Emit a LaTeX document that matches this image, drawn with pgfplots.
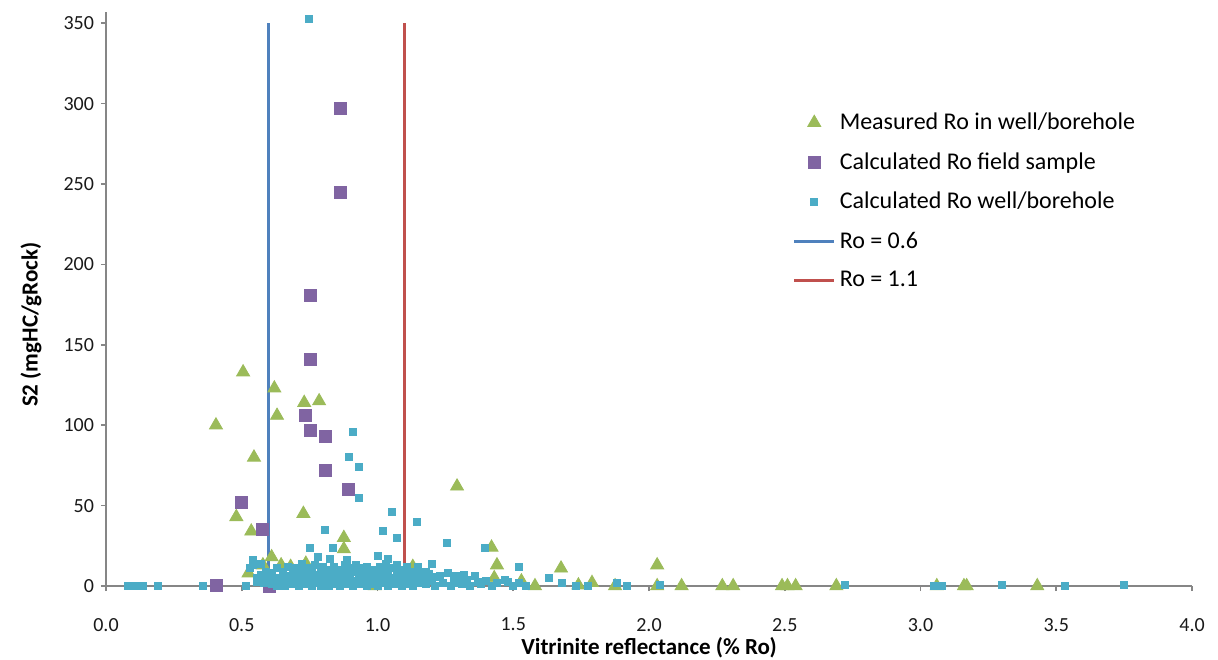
\documentclass[border=0pt]{standalone}
\usepackage{fontspec}
\setmainfont{Carlito}
\usepackage{pgfplots}
\pgfplotsset{compat=1.18}
\definecolor{mgreen}{HTML}{9BBB59}
\definecolor{mpurple}{HTML}{8064A2}
\definecolor{mcyan}{HTML}{4BACC6}
\definecolor{mblue}{HTML}{4F81BD}
\definecolor{mred}{HTML}{C0504D}
\definecolor{axisgray}{HTML}{868686}
\begin{document}
\begin{tikzpicture}
\begin{axis}[
  at={(53pt,36.5pt)}, anchor=south west,
  width=543pt, height=287pt, scale only axis,
  xmin=0, xmax=4, ymin=0, ymax=357,
  clip=false,
  axis lines=left,
  axis line style={-, draw=axisgray, line width=0.8pt},
  tick align=outside, major tick length=2.5pt,
  tick style={draw=axisgray, line width=0.8pt},
  xtick={0,0.5,1,1.5,2,2.5,3,3.5,4},
  ytick={0,50,100,150,200,250,300,350},
  /pgf/number format/assume math mode=true,
  xticklabel style={/pgf/number format/fixed, /pgf/number format/fixed zerofill, /pgf/number format/precision=1, yshift=-10pt},
  ticklabel style={font=\fontsize{10}{12}\selectfont, text=black!90},
  xlabel={\textbf{Vitrinite reflectance (\% Ro)}},
  ylabel={\textbf{S2 (mgHC/gRock)}},
  xlabel style={at={(axis description cs:0.5,-0.107)}, anchor=center, font=\fontsize{11.5}{13}\selectfont},
  ylabel style={at={(axis description cs:-0.069,0.455)}, anchor=center, font=\fontsize{11.5}{13}\selectfont},
  legend cell align=left,
  legend image code/.code={\draw[mark repeat=2,mark phase=2,#1] plot coordinates {(0pt,0pt) (10pt,0pt) (20pt,0pt)};},
  legend style={draw=none, fill=none, inner sep=0pt, at={(axis description cs:0.632,0.832)}, anchor=north west,
    row sep=6pt, font=\fontsize{12}{13}\selectfont},
]
\addplot[only marks, mark=triangle*, mark size=3.75pt, mgreen, mark options={draw=mgreen, fill=mgreen}] coordinates {
(0.405,100) (0.505,133) (0.545,80) (0.48,43) (0.535,34) (0.62,123) (0.63,106)
(0.73,114) (0.785,115) (0.727,45) (0.876,30) (0.876,23) (1.293,62) (1.42,24)
(1.44,13) (1.43,5) (1.53,3) (0.525,8) (0.578,13) (0.61,18) (0.645,13) (0.68,12)
(0.736,14) (0.99,0) (1.13,12) (1.58,0) (1.676,11) (1.74,0.5) (1.79,2) (1.875,0)
(2.03,13) (2.03,0) (2.12,0) (2.27,0) (2.31,0) (2.49,0) (2.51,0) (2.54,0) (2.69,0)
(3.06,0) (3.16,0) (3.17,0) (3.43,0)
};
\addlegendentry{Measured Ro in well/borehole}
\addplot[only marks, mark=square*, mark size=3pt, mpurple, mark options={draw=mpurple, fill=mpurple}] coordinates {
(0.862,297) (0.862,245) (0.751,181) (0.751,141) (0.733,106) (0.751,97) (0.807,93)
(0.807,72) (0.892,60) (0.50,52) (0.575,35) (0.405,0.5) (0.63,3) (0.60,0)
};
\addlegendentry{Calculated Ro field sample}
\addplot[only marks, mark=square*, mark size=1.75pt, mcyan, mark options={draw=mcyan, fill=mcyan}] coordinates {
(0.748,353) (0.91,96) (0.895,80) (0.93,74) (0.93,55) (1.053,46) (1.145,40) (1.02,34)
(1.072,30) (0.807,35) (1.255,27) (1.395,24) (0.751,24) (0.781,18) (0.825,17) (0.836,23.5)
(0.888,16) (1.002,19) (1.039,17) (0.541,16) (0.54,13) (0.53,11) (0.556,5) (0.555,2.5)
(0.515,0) (0.081,0) (0.099,0) (0.118,0) (0.136,0) (0.19,0) (0.357,0)
(1.20,14) (1.15,12) (1.16,9) (1.19,7.5) (1.22,5.5) (1.29,6) (1.32,7) (1.30,2) (1.37,2.5)
(1.47,4) (1.48,2.5) (1.52,12) (1.50,0) (1.52,2) (1.545,0) (1.63,5) (1.68,2) (1.73,0)
(1.775,0) (1.88,2) (1.92,0) (2.04,0.5) (2.72,0.5) (3.05,0) (3.08,0) (3.30,0.5) (3.53,0) (3.75,0.5)
(0.57,14) (0.57,7) (0.58,2) (0.59,9) (0.60,4) (0.61,1) (0.61,8) (0.62,3) (0.63,11) (0.63,0)
(0.64,5) (0.65,2) (0.65,9) (0.66,0) (0.67,6) (0.67,12) (0.68,3) (0.69,1) (0.69,8) (0.70,4)
(0.70,11) (0.71,0) (0.71,7) (0.72,2) (0.72,14) (0.73,5) (0.73,9) (0.74,1) (0.74,6) (0.75,3)
(0.75,11) (0.76,0) (0.76,8) (0.77,4) (0.77,13) (0.78,2) (0.78,7) (0.79,10) (0.79,0) (0.80,5)
(0.80,12) (0.81,2) (0.81,8) (0.82,0) (0.82,4) (0.83,10) (0.83,6) (0.84,1) (0.84,12) (0.85,3)
(0.85,7) (0.86,0) (0.86,10) (0.87,5) (0.87,2) (0.88,8) (0.88,13) (0.89,1) (0.89,4) (0.90,11)
(0.90,6) (0.91,0) (0.91,9) (0.92,3) (0.92,13) (0.93,7) (0.93,1) (0.94,5) (0.94,11) (0.95,2)
(0.95,8) (0.96,0) (0.96,12) (0.97,4) (0.97,9) (0.98,1) (0.98,6) (0.99,10) (0.99,3) (1.00,7)
(1.00,0) (1.01,12) (1.01,4) (1.02,2) (1.02,9) (1.03,6) (1.03,14) (1.04,0) (1.04,8) (1.05,3)
(1.05,11) (1.06,5) (1.06,1) (1.07,9) (1.07,13) (1.08,2) (1.08,6) (1.09,0) (1.09,10) (1.10,4)
(1.10,8) (1.11,1) (1.11,12) (1.12,6) (1.12,3) (1.13,9) (1.13,0) (1.14,5) (1.15,2) (1.17,4)
(1.18,1) (1.18,9) (1.20,3) (1.21,0) (1.23,6) (1.24,2) (1.26,8) (1.27,0) (1.28,3) (1.31,1)
(1.33,4) (1.34,0) (1.36,6) (1.38,1) (1.40,3) (1.42,0) (1.44,2)
};
\addlegendentry{Calculated Ro well/borehole}
\addplot[mblue, line width=1.5pt] coordinates {(0.6,0) (0.6,350)};
\addlegendentry{Ro = 0.6}
\addplot[mred, line width=1.5pt] coordinates {(1.1,0) (1.1,350)};
\addlegendentry{Ro = 1.1}
\end{axis}
\pgfresetboundingbox
\path[use as bounding box] (0,0) rectangle (609pt,329.5pt);
\end{tikzpicture}
\end{document}
